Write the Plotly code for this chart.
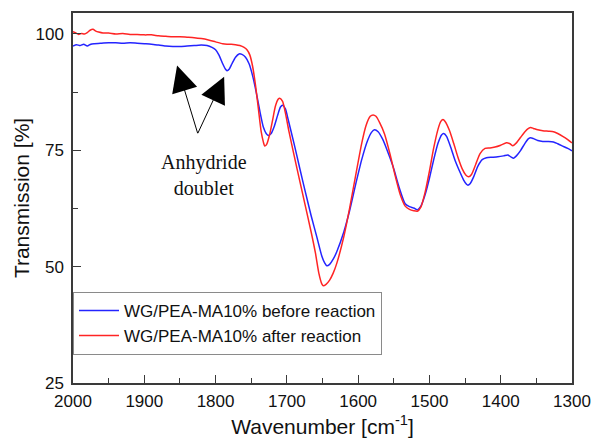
import plotly.graph_objects as go

# FTIR spectra, 2000-1300 cm-1
wn_before = [2000, 1995, 1990, 1985, 1980, 1975, 1970, 1960, 1950, 1940, 1930, 1920,
             1910, 1900, 1890, 1880, 1870, 1860, 1850, 1840, 1830, 1820, 1812, 1805,
             1800, 1795, 1790, 1786, 1784, 1781, 1777, 1772, 1767, 1763, 1758, 1753,
             1748, 1743, 1738, 1733, 1729, 1726, 1722, 1718, 1713, 1709, 1706, 1702,
             1698, 1690, 1682, 1674, 1666, 1658, 1651, 1647, 1644, 1640, 1635, 1630,
             1620, 1612, 1603, 1595, 1587, 1581, 1577, 1572, 1566, 1560, 1551, 1542,
             1534, 1528, 1522, 1517, 1512, 1506, 1500, 1494, 1488, 1483, 1480, 1476,
             1470, 1464, 1458, 1452, 1448, 1446, 1443, 1438, 1432, 1426, 1420, 1412,
             1404, 1396, 1390, 1385, 1382, 1378, 1372, 1366, 1361, 1358, 1354, 1348,
             1341, 1333, 1326, 1320, 1313, 1306, 1300]
tr_before = [97.4, 97.7, 97.5, 97.8, 97.4, 97.8, 97.9, 98.0, 98.1, 98.1, 98.0, 98.1,
             98.0, 97.9, 97.8, 97.6, 97.4, 97.3, 97.3, 97.4, 97.5, 97.6, 97.5, 97.1,
             96.6, 95.4, 93.6, 92.4, 92.1, 92.4, 93.6, 95.0, 95.7, 95.6, 95.0, 93.6,
             91.0, 87.5, 83.5, 80.0, 78.6, 78.2, 78.6, 80.0, 82.5, 84.3, 84.7, 83.9,
             81.5, 76.5, 71.2, 66.0, 61.0, 56.4, 52.3, 50.8, 50.2, 50.5, 51.6, 53.2,
             57.5, 62.0, 68.0, 73.0, 77.0, 78.9, 79.4, 79.0, 77.5, 75.3, 71.5, 66.8,
             63.5, 62.9, 62.6, 62.2, 63.0, 65.5, 69.0, 73.0, 76.5, 78.3, 78.6, 78.0,
             75.6, 72.8, 70.6, 68.6, 67.7, 67.5, 67.8, 69.3, 71.6, 73.0, 73.4, 73.5,
             73.6, 73.8, 74.0, 73.5, 73.3, 73.8, 75.0, 76.5, 77.5, 77.7, 77.5, 77.1,
             76.9, 76.9, 76.8, 76.4, 75.9, 75.4, 74.9]

wn_after = [2000, 1996, 1992, 1988, 1984, 1980, 1976, 1972, 1968, 1964, 1958, 1950,
            1940, 1930, 1920, 1910, 1900, 1890, 1880, 1870, 1860, 1850, 1840, 1830,
            1820, 1810, 1800, 1790, 1784, 1778, 1772, 1766, 1760, 1756, 1752, 1748,
            1744, 1740, 1736, 1733, 1731, 1728, 1724, 1720, 1716, 1712, 1710, 1706,
            1702, 1697, 1690, 1682, 1674, 1666, 1660, 1655, 1651, 1649, 1645, 1640,
            1635, 1630, 1620, 1612, 1603, 1595, 1589, 1583, 1579, 1575, 1570, 1563,
            1555, 1548, 1541, 1534, 1528, 1522, 1517, 1512, 1506, 1500, 1494, 1488,
            1484, 1481, 1478, 1472, 1466, 1460, 1454, 1449, 1445, 1441, 1435, 1429,
            1422, 1415, 1408, 1400, 1392, 1387, 1383, 1378, 1372, 1366, 1361, 1358,
            1354, 1348, 1341, 1333, 1326, 1320, 1313, 1306, 1300]
tr_after = [100.5, 100.2, 99.9, 100.1, 100.0, 100.3, 100.8, 101.0, 100.6, 100.4, 100.2, 100.2,
            100.0, 100.1, 99.9, 99.9, 99.8, 99.8, 99.6, 99.5, 99.4, 99.4, 99.3, 99.2,
            99.0, 98.7, 98.3, 97.9, 97.8, 97.8, 97.7, 97.5, 97.1, 96.6, 95.5, 93.0,
            89.0, 84.0, 79.0, 76.8, 75.9, 76.4, 78.5, 81.5, 84.5, 86.0, 86.2, 85.5,
            83.0, 79.0, 74.0, 68.5, 63.0, 57.5, 53.0, 48.5, 46.3, 45.9, 46.2, 47.1,
            48.6, 50.7, 56.5, 62.5, 70.0, 76.5, 80.3, 82.3, 82.6, 82.3, 81.0, 78.5,
            74.0, 69.5, 65.5, 63.0, 62.3, 62.0, 61.9, 62.8, 66.0, 70.5, 75.5, 79.5,
            81.2, 81.6, 81.2, 79.3, 76.5, 73.5, 71.0, 69.7, 69.3, 69.8, 72.0, 74.3,
            75.4, 75.5, 75.7, 76.1, 76.6, 76.4, 76.0, 76.6, 77.8, 79.0, 79.7, 79.9,
            79.7, 79.4, 79.2, 79.1, 79.0, 78.6, 78.0, 77.3, 76.6]

series_names = ["WG/PEA-MA10% before reaction", "WG/PEA-MA10% after reaction"]
y_ticks = [25, 50, 75, 100]
x_ticks = [2000, 1900, 1800, 1700, 1600, 1500, 1400, 1300]

SANS = "Liberation Sans, Arial, sans-serif"
SERIF = "Liberation Serif, Times New Roman, serif"

fig = go.Figure()
fig.add_trace(go.Scatter(x=wn_before, y=tr_before, mode="lines", name=series_names[0],
                         line=dict(color="#2424ff", width=1.5, shape="spline", smoothing=0.6)))
fig.add_trace(go.Scatter(x=wn_after, y=tr_after, mode="lines", name=series_names[1],
                         line=dict(color="#ff2424", width=1.5, shape="spline", smoothing=0.6)))

# Arrows pointing at the anhydride doublet
arrow_common = dict(xref="x", yref="y", showarrow=True, arrowhead=2, arrowsize=5.2,
                    arrowwidth=1, arrowcolor="#000000", text="")
fig.add_annotation(x=1854, y=93.2, ax=21, ay=69, **arrow_common)
fig.add_annotation(x=1788, y=90.8, ax=-27, ay=58, **arrow_common)
fig.add_annotation(x=1816, y=69.6, xref="x", yref="y", showarrow=False,
                   text="Anhydride<br>doublet", font=dict(family=SERIF, size=20, color="#111"),
                   align="center")

axis_common = dict(showline=True, linecolor="#3a3a3a", linewidth=1.5, mirror=True,
                   ticks="inside", ticklen=8, tickwidth=1.2, tickcolor="#3a3a3a",
                   showgrid=False, zeroline=False, automargin=False,
                   tickfont=dict(family=SANS, size=17, color="#111"))

fig.update_xaxes(range=[2000, 1300], tickvals=x_ticks, ticklabelstandoff=2,
                 minor=dict(ticks="inside", ticklen=5, dtick=50, tick0=0, tickcolor="#3a3a3a"),
                 title=dict(text="Wavenumber [cm<sup>-1</sup>]", standoff=9,
                            font=dict(family=SANS, size=21, color="#111")),
                 **axis_common)
fig.update_yaxes(range=[25, 104.5], tickvals=y_ticks, ticklabelstandoff=4,
                 minor=dict(ticks="inside", ticklen=5, dtick=12.5, tick0=0, tickcolor="#3a3a3a"),
                 title=dict(text="Transmission [%]", standoff=0,
                            font=dict(family=SANS, size=21, color="#111")),
                 **axis_common)

fig.update_layout(
    width=594, height=438,
    margin=dict(l=73, r=22, t=13, b=55),
    plot_bgcolor="white", paper_bgcolor="white",
    font=dict(family=SANS, color="#111"),
    legend=dict(x=0, y=0.076, xanchor="left", yanchor="bottom",
                bgcolor="white", bordercolor="#8a8a8a", borderwidth=1,
                font=dict(family=SANS, size=17, color="#111"),
                tracegroupgap=0, itemwidth=40),
)

fig.write_html("out.html")
